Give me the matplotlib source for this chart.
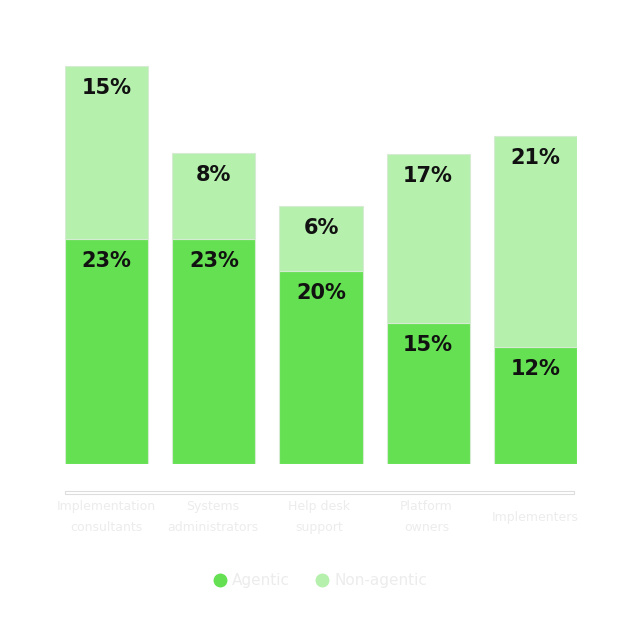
import matplotlib.pyplot as plt
import matplotlib.patches as mpatches
from matplotlib.lines import Line2D

# ── Données ──────────────────────────────────────────────────────────────────
CATEGORIES = ["Implementation\nconsultants", "Systems\nadministrators",
              "Help desk\nsupport", "Platform\nowners", "Implementers"]
AGENTIC = [23.0, 23.0, 19.7, 14.4, 11.9]          # hauteurs
NON_AGENTIC = [17.6, 8.7, 6.6, 17.2, 21.6]
AGENTIC_LABELS = ["23%", "23%", "20%", "15%", "12%"]
NON_AGENTIC_LABELS = ["15%", "8%", "6%", "17%", "21%"]

DARK = "#65e052"
LIGHT = "#b5f0ad"
TEXT_LIGHT = "#ececec"

W, H = 640, 640
fig = plt.figure(figsize=(6.4, 6.4), dpi=100)
ax = fig.add_axes([65 / W, (H - 464) / H, 512 / W, 424 / H])
ax.set_xlim(-0.39, 4.39)
ax.set_ylim(0, 424 / 9.8)
ax.axis("off")

x = list(range(len(CATEGORIES)))
width = 0.776
ax.bar(x, AGENTIC, width, color=DARK, edgecolor="#d6ecd2", linewidth=0.8)
ax.bar(x, NON_AGENTIC, width, bottom=AGENTIC, color=LIGHT,
       edgecolor="#d6ecd2", linewidth=0.8)

for xi, a, n, la, ln in zip(x, AGENTIC, NON_AGENTIC,
                            AGENTIC_LABELS, NON_AGENTIC_LABELS):
    ax.annotate(la, xy=(xi, a), xytext=(0, -22), textcoords="offset pixels",
                ha="center", va="center", fontsize=15, fontweight="bold",
                color="#111111")
    ax.annotate(ln, xy=(xi, a + n), xytext=(0, -22), textcoords="offset pixels",
                ha="center", va="center", fontsize=15, fontweight="bold",
                color="#111111")

# Ligne d'axe (fine bande grise)
fig.patches.append(mpatches.Rectangle((65 / W, (H - 494) / H), 509 / W, 3 / H,
                                      transform=fig.transFigure,
                                      facecolor="white", edgecolor="#dddddd",
                                      linewidth=0.8))

# Libellés des catégories
centers = [106.5, 213, 319, 426.5, 535]
for cx, cat in zip(centers, CATEGORIES):
    fig.text(cx / W, 1 - 517 / H, cat, ha="center", va="center",
             fontsize=9, color=TEXT_LIGHT, linespacing=1.8)

# Légende
handles = [Line2D([], [], marker="o", linestyle="", markersize=9,
                  markerfacecolor=DARK, markeredgecolor=DARK, label="Agentic"),
           Line2D([], [], marker="o", linestyle="", markersize=9,
                  markerfacecolor=LIGHT, markeredgecolor=LIGHT, label="Non-agentic")]
fig.legend(handles=handles, loc="center", bbox_to_anchor=(0.5, 1 - 581 / H),
           ncol=2, frameon=False, fontsize=11, labelcolor=TEXT_LIGHT,
           handlelength=1.0, handletextpad=0.3, columnspacing=1.6)

fig.savefig("out.png", dpi=100, facecolor="white")
